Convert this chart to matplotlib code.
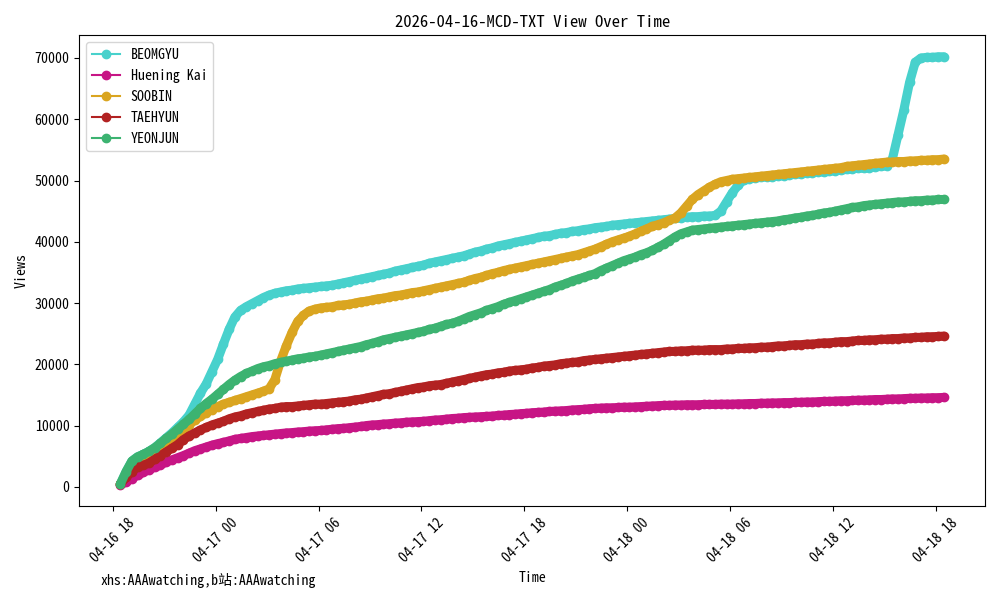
import pandas as pd
import matplotlib
matplotlib.use("Agg")
from matplotlib import pyplot as plt
from matplotlib.lines import Line2D
import matplotlib.dates as mdates

plt.rcParams['font.family'] = ['Noto Sans Mono CJK SC', 'Noto Sans CJK SC', 'DejaVu Sans']

# sampling times (every 20 minutes)
times = pd.date_range("2026-04-16 18:27", periods=145, freq="20min")

beomgyu = [
    500, 2500, 4200, 4900, 5300, 5800, 6400, 7200, 8000, 8800, 9700, 10600,
    11700, 13500, 15300, 16800, 18800, 20800, 23300, 25700, 27700, 28800, 29400, 29900,
    30400, 30900, 31300, 31600, 31800, 32000, 32100, 32300, 32400, 32500, 32600, 32700,
    32800, 32900, 33100, 33300, 33500, 33700, 33900, 34100, 34300, 34500, 34700, 34900,
    35200, 35400, 35600, 35800, 36000, 36200, 36500, 36700, 36900, 37100, 37300, 37500,
    37700, 38000, 38300, 38500, 38800, 39000, 39300, 39500, 39700, 39900, 40100, 40300,
    40500, 40700, 40900, 41000, 41200, 41400, 41500, 41700, 41800, 42000, 42100, 42300,
    42400, 42500, 42700, 42800, 42900, 43000, 43100, 43200, 43300, 43400, 43500, 43600,
    43700, 43800, 43900, 44000, 44100, 44100, 44200, 44200, 44300, 45000, 46500, 48000,
    49200, 50100, 50300, 50400, 50500, 50600, 50600, 50700, 50800, 50900, 51000, 51100,
    51200, 51300, 51400, 51400, 51500, 51600, 51700, 51800, 51900, 52000, 52000, 52100,
    52200, 52300, 52400, 53500, 57500, 61500, 66000, 69300, 70000, 70100, 70100, 70200,
    70200]

huening_kai = [
    300, 800, 1350, 1900, 2350, 2800, 3200, 3550, 4050, 4400, 4750, 5100,
    5500, 5900, 6200, 6500, 6800, 7050, 7250, 7500, 7750, 7900, 8050, 8200,
    8300, 8400, 8500, 8600, 8700, 8800, 8850, 8950, 9000, 9100, 9150, 9200,
    9300, 9400, 9500, 9550, 9650, 9750, 9850, 10000, 10100, 10150, 10250, 10300,
    10400, 10450, 10550, 10600, 10650, 10700, 10800, 10900, 10950, 11050, 11150, 11200,
    11300, 11350, 11400, 11450, 11500, 11550, 11650, 11700, 11800, 11850, 11950, 12000,
    12100, 12150, 12200, 12300, 12350, 12400, 12450, 12550, 12600, 12650, 12750, 12800,
    12850, 12900, 12900, 12950, 13000, 13000, 13050, 13100, 13150, 13200, 13250, 13300,
    13300, 13350, 13350, 13400, 13400, 13400, 13450, 13450, 13450, 13500, 13500, 13500,
    13550, 13550, 13600, 13600, 13650, 13650, 13700, 13700, 13750, 13750, 13800, 13800,
    13850, 13850, 13900, 13950, 13950, 14000, 14050, 14050, 14100, 14150, 14150, 14200,
    14250, 14250, 14300, 14350, 14350, 14400, 14450, 14450, 14500, 14500, 14550, 14550,
    14600]

soobin = [
    500, 1800, 3000, 3700, 4100, 4700, 5300, 6000, 6700, 7500, 8300, 9200,
    10100, 10900, 11500, 12100, 12600, 13100, 13500, 13800, 14100, 14400, 14700, 15000,
    15300, 15600, 16000, 17500, 20500, 23000, 25200, 27000, 28000, 28700, 29000, 29200,
    29300, 29400, 29600, 29700, 29800, 30000, 30200, 30300, 30500, 30700, 30800, 31000,
    31200, 31300, 31500, 31700, 31800, 32000, 32200, 32400, 32600, 32800, 33000, 33200,
    33400, 33700, 34000, 34200, 34500, 34800, 35000, 35300, 35500, 35700, 35900, 36100,
    36300, 36500, 36700, 36900, 37100, 37300, 37500, 37700, 37900, 38200, 38500, 38800,
    39200, 39600, 40000, 40300, 40600, 40900, 41300, 41700, 42100, 42500, 42800, 43100,
    43500, 43900, 44700, 45800, 46900, 47700, 48300, 48900, 49400, 49800, 50000, 50200,
    50300, 50400, 50500, 50600, 50700, 50800, 50900, 51000, 51100, 51200, 51300, 51400,
    51500, 51600, 51700, 51800, 51900, 52000, 52100, 52300, 52400, 52500, 52600, 52700,
    52800, 52900, 53000, 53000, 53100, 53100, 53200, 53200, 53300, 53300, 53400, 53400,
    53500]

taehyun = [
    400, 1600, 2500, 3300, 3500, 3900, 4500, 5100, 5700, 6300, 6900, 7700,
    8300, 8800, 9300, 9700, 10100, 10400, 10700, 11100, 11400, 11600, 11900, 12100,
    12300, 12500, 12700, 12800, 13000, 13100, 13100, 13200, 13300, 13400, 13500, 13500,
    13600, 13700, 13800, 13900, 14000, 14200, 14300, 14500, 14700, 14900, 15100, 15200,
    15400, 15600, 15800, 16000, 16200, 16300, 16500, 16600, 16700, 16900, 17100, 17300,
    17500, 17700, 17900, 18100, 18300, 18400, 18600, 18700, 18900, 19000, 19100, 19200,
    19400, 19500, 19700, 19800, 19900, 20100, 20200, 20300, 20400, 20600, 20700, 20800,
    20900, 21000, 21100, 21200, 21300, 21400, 21500, 21600, 21700, 21800, 21900, 22000,
    22100, 22100, 22200, 22200, 22300, 22300, 22300, 22400, 22400, 22400, 22500, 22500,
    22600, 22600, 22700, 22700, 22800, 22800, 22900, 23000, 23000, 23100, 23200, 23200,
    23300, 23300, 23400, 23500, 23500, 23600, 23700, 23700, 23800, 23900, 23900, 24000,
    24000, 24100, 24100, 24200, 24200, 24300, 24300, 24400, 24400, 24500, 24500, 24550,
    24600]

yeonjun = [
    500, 2500, 4200, 4900, 5300, 5800, 6400, 7100, 7900, 8600, 9400, 10200,
    11000, 11900, 12800, 13600, 14300, 15100, 15900, 16700, 17400, 18000, 18500, 18900,
    19300, 19600, 19800, 20100, 20300, 20500, 20700, 20900, 21000, 21200, 21300, 21500,
    21700, 21900, 22100, 22300, 22500, 22700, 22900, 23200, 23400, 23700, 24000, 24200,
    24400, 24600, 24800, 25000, 25200, 25400, 25700, 25900, 26200, 26500, 26700, 27000,
    27400, 27800, 28100, 28400, 28800, 29100, 29400, 29800, 30100, 30400, 30700, 31000,
    31300, 31600, 31900, 32200, 32600, 32900, 33200, 33600, 33900, 34200, 34500, 34800,
    35300, 35700, 36100, 36500, 36900, 37200, 37500, 37900, 38200, 38600, 39100, 39600,
    40200, 40800, 41300, 41600, 41900, 42000, 42100, 42200, 42300, 42400, 42500, 42600,
    42700, 42800, 42900, 43000, 43100, 43200, 43300, 43400, 43600, 43700, 43900, 44000,
    44200, 44300, 44500, 44700, 44800, 45000, 45200, 45400, 45600, 45700, 45900, 46000,
    46100, 46200, 46300, 46400, 46500, 46500, 46600, 46700, 46700, 46800, 46800, 46900,
    46900]

nombres = ["BEOMGYU", "Huening Kai", "SOOBIN", "TAEHYUN", "YEONJUN"]
series = [beomgyu, huening_kai, soobin, taehyun, yeonjun]
colores = ["mediumturquoise", "mediumvioletred", "goldenrod", "firebrick", "mediumseagreen"]

fig, ax = plt.subplots(figsize=(10, 6), dpi=100)

# dense markers in the original merge into a thick band
handles = []
for nombre, valores, color in zip(nombres, series, colores):
    ax.plot(times, valores, marker='o', markersize=6, linewidth=6.5,
            solid_joinstyle='round', solid_capstyle='round', color=color)
    handles.append(Line2D([], [], marker='o', color=color, label=nombre))

ax.set_title("2026-04-16-MCD-TXT View Over Time")
ax.set_xlabel("Time")
ax.set_ylabel("Views")
ax.xaxis.set_major_formatter(mdates.DateFormatter('%m-%d %H'))
plt.xticks(rotation=45)
ax.legend(handles=handles, loc="upper left")

plt.tight_layout()
fig.text(0.1, 0.025, "xhs:AAAwatching,b站:AAAwatching")
plt.savefig("out.png")
